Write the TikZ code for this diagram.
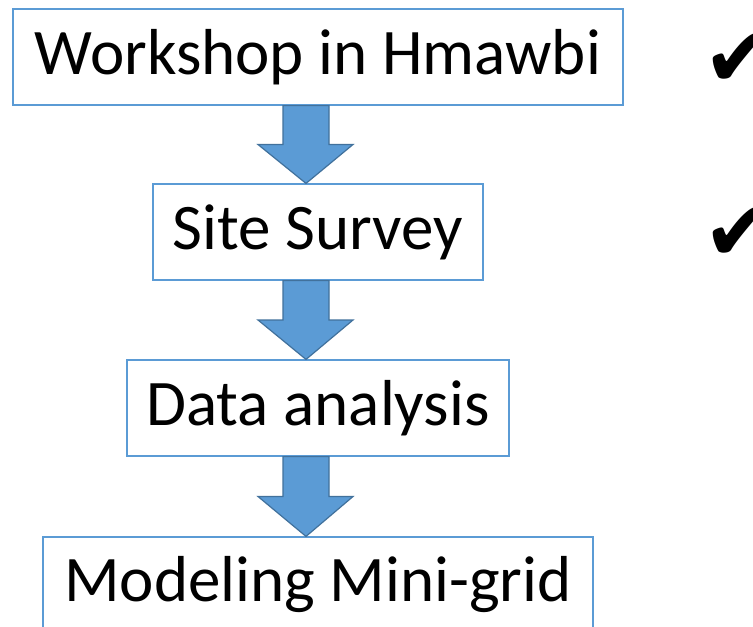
\documentclass[tikz,border=0pt]{standalone}
\usepackage{fontspec}
\setmainfont{Carlito}
\newfontfamily\dejavu{DejaVu Sans}
\usetikzlibrary{calc}
\definecolor{boxblue}{HTML}{5B9BD5}
\definecolor{arrowline}{HTML}{41719C}
\tikzset{
  stepbox/.style={draw=boxblue, line width=1.2pt, fill=white, rectangle, inner sep=0pt,
    minimum height=96pt, font=\fontsize{65}{78}\selectfont, text=black},
  blockarr/.style={fill=boxblue, draw=arrowline, line width=1.2pt, line join=miter},
  checkmark/.style={inner sep=0pt, anchor=west, font=\dejavu\fontsize{84}{90}\selectfont}
}
\newcommand\blockarrow[2]{%
  \draw[blockarr] let \p1=(#1.south), \p2=(#2.north) in
    (\x1-35pt,\y1) -- (\x1+11pt,\y1) -- (\x1+11pt,{(\y1+\y2)/2}) --
    (\x1+35pt,{(\y1+\y2)/2}) -- (\x1-12pt,\y2) -- (\x1-60pt,{(\y1+\y2)/2}) --
    (\x1-35pt,{(\y1+\y2)/2}) -- cycle;}
\begin{document}
\begin{tikzpicture}[x=1pt,y=1pt]
\useasboundingbox[fill=white] (0,0) rectangle (753,-627);
\node[stepbox, minimum width=610pt] (b1) at (318,-57) {Workshop in Hmawbi};
\node[stepbox, minimum width=330pt] (b2) at (318,-232) {Site Survey};
\node[stepbox, minimum width=382pt] (b3) at (318,-408) {Data analysis};
\node[stepbox, minimum width=550pt] (b4) at (318,-585) {Modeling Mini-grid};
\blockarrow{b1}{b2}
\blockarrow{b2}{b3}
\blockarrow{b3}{b4}
\node[checkmark] (c1) at (703,-60) {✔};
\node[checkmark] (c2) at (703,-234) {✔};
\end{tikzpicture}
\end{document}
